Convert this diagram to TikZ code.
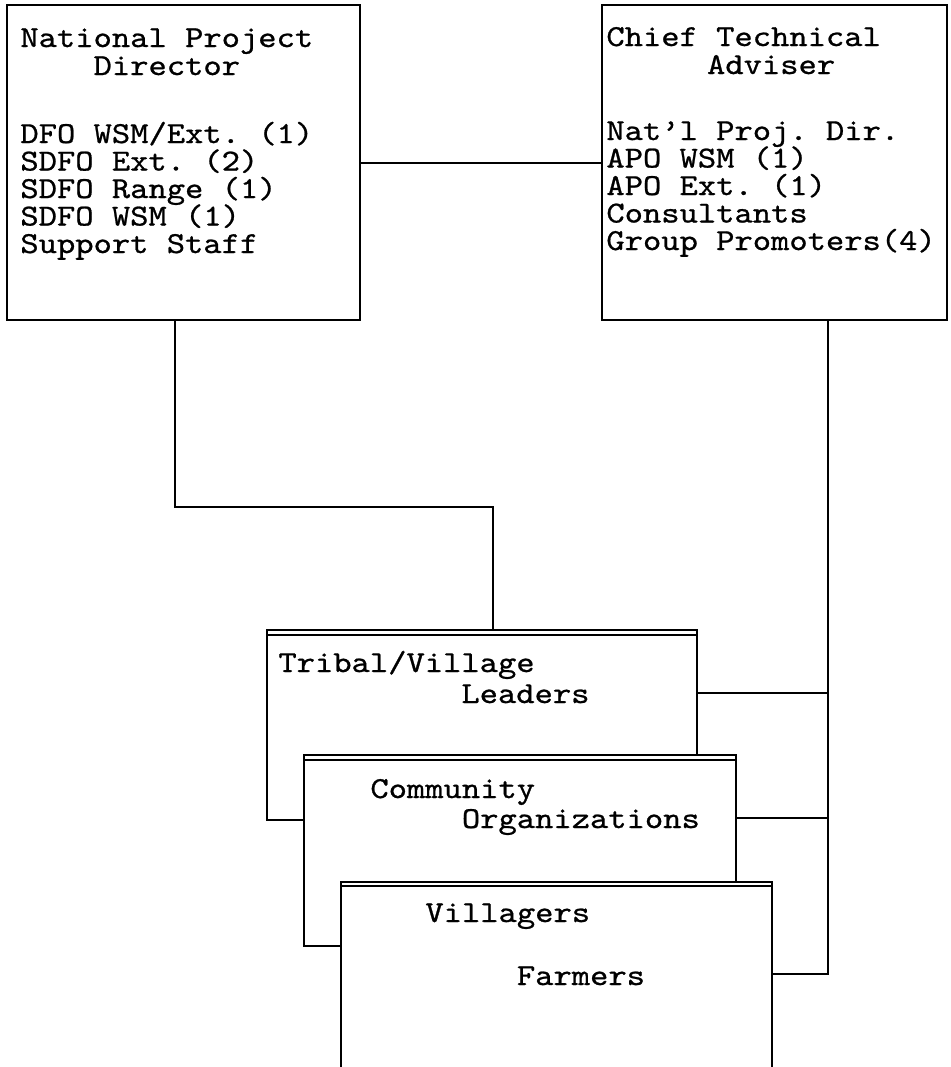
\documentclass[tikz,border=0pt]{standalone}
\usepackage{fontspec}
\usepackage{tikz}
\usetikzlibrary{positioning}
\newfontfamily\typer{lmmono10-regular}[Extension=.otf, FakeStretch=1.143, FakeBold=0.8]
\newcommand{\pad}[1]{\hspace*{#1\fontcharwd\font`M}}
\newcommand{\snuglines}{\lineskiplimit=-50pt\relax}

\begin{document}
\begin{tikzpicture}[x=0.5pt, y=-0.5pt,
    office/.style={draw, line width=1pt, inner sep=0pt, outer sep=0pt,
      anchor=north west},
    tier/.style={office, fill=white},
    lbl/.style={anchor=base west, inner sep=0pt, align=left,
      font=\typer\fontsize{15.25}{#1}\selectfont\frenchspacing\snuglines},
    lbl/.default=13.75,
    link/.style={line width=1pt},
    rim/.style={line width=0.8pt}]
  \useasboundingbox (0,0) rectangle (950,1067);
  \clip (0,0) rectangle (950,1067);
  % top level
  \node[office, minimum width=176.5pt, minimum height=157.5pt] (npd) at (7,5) {};
  \node[office, minimum width=172.5pt, minimum height=157.5pt] (cta) at (602,5) {};
  % stacked boxes
  \node[tier, minimum width=215pt, minimum height=95pt] (tl) at (267,630) {};
  \draw[rim] ([yshift=-2.5pt]tl.north west) -- ([yshift=-2.5pt]tl.north east);
  \node[tier, minimum width=216pt, minimum height=95.5pt] (co) at (304,755) {};
  \draw[rim] ([yshift=-2.5pt]co.north west) -- ([yshift=-2.5pt]co.north east);
  \node[tier, minimum width=215.5pt, minimum height=104pt] (vl) at (341,882) {};
  \draw[rim] ([yshift=-2pt]vl.north west) -- ([yshift=-2pt]vl.north east);
  % connectors
  \coordinate (bend1) at (175,507);
  \coordinate (bend2) at (493,507);
  \coordinate (r1) at (828,693);
  \coordinate (r2) at (828,818);
  \coordinate (r3) at (828,974);
  \draw[link] (npd.east) -- (cta.west);
  \draw[link] (npd.south -| bend1) -- (bend1) -- (bend2) -- (tl.north -| bend2);
  \draw[link] (cta.south -| r3) -- (r3) -- (vl.east |- r3);
  \draw[link] (r1) -- (tl.east |- r1);
  \draw[link] (r2) -- (co.east |- r2);
  % texts (placed at the baseline of their last line)
  \node[lbl=14] (npdhead) at (20,75) {National Project\\\pad{4}Director};
  \node[lbl] (npdstaff) at (20,253) {DFO WSM/Ext. (1)\\SDFO Ext. (2)\\SDFO Range (1)\\SDFO WSM (1)\\Support Staff};
  \node[lbl=14] (ctahead) at (606,74) {Chief Technical\\\pad{5.5}Adviser};
  \node[lbl] (ctastaff) at (606,250) {Nat’l Proj. Dir.\\APO WSM (1)\\APO Ext. (1)\\Consultants\\Group Promoters(4)};
  \node[lbl=15.5] (tltext) at (278,703) {Tribal/Village\\\pad{10}Leaders};
  \node[lbl=15] (cotext) at (370,828) {Community\\\pad{5}Organizations};
  \node[lbl=15.75] (vltext) at (425,985) {Villagers\\[15.75pt]\pad{5}Farmers};
\end{tikzpicture}
\end{document}
